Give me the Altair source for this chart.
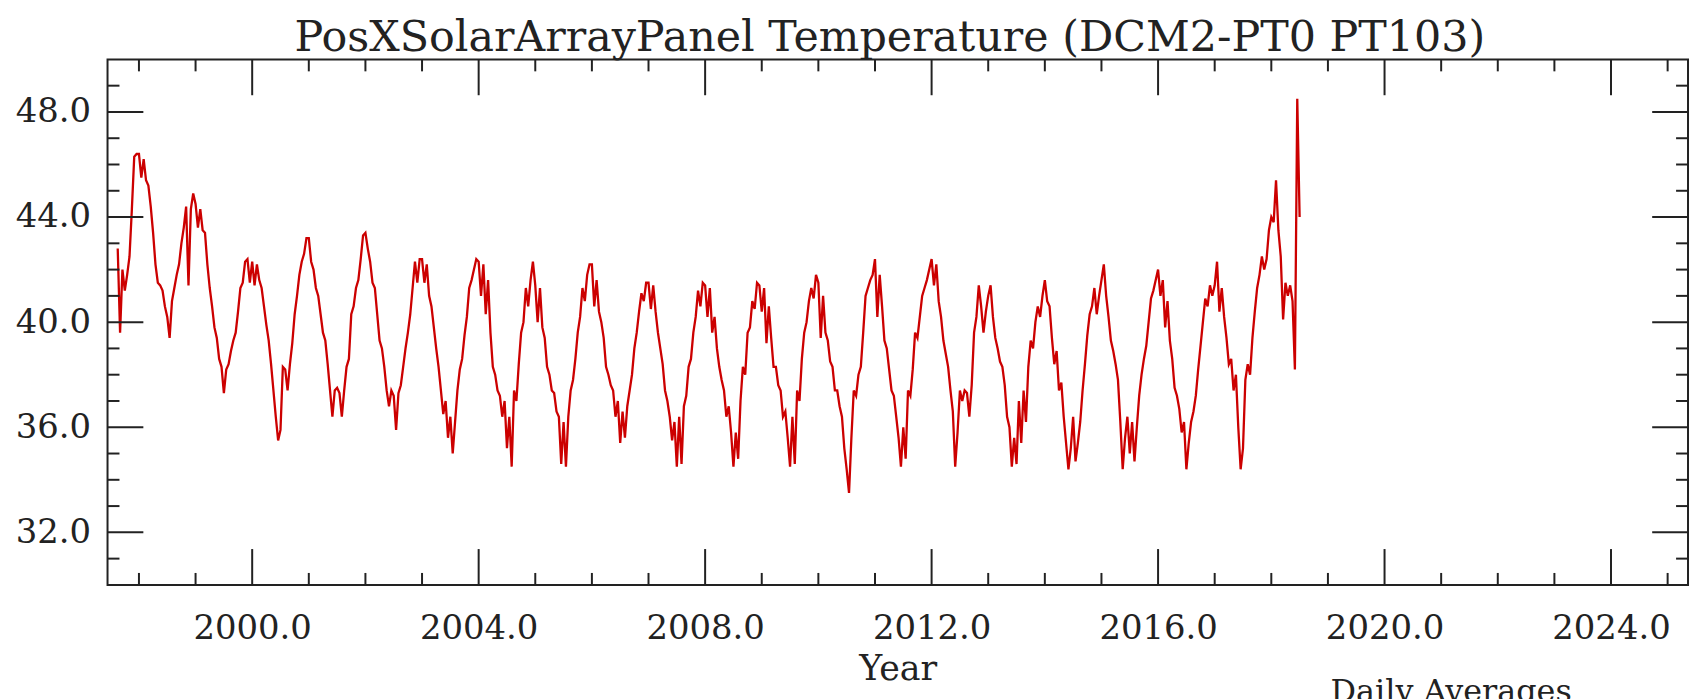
import altair as alt
import pandas as pd

TITLE = "PosXSolarArrayPanel Temperature (DCM2-PT0 PT103)"
X_TITLE = "Year"
NOTE = "Daily Averages"

# Semi-monthly readings of the daily-average temperature (deg), 24 samples per year:
# sample k of a year sits at year + k/24. 1997 starts at sample 15.
FIRST_1997 = 15
y1997 = [42.8, 39.6, 42.0, 41.2, 41.8, 42.5, 44.3, 46.3, 46.4]
y1998 = [46.4, 45.5, 46.2, 45.4, 45.2, 44.4, 43.4, 42.2, 41.5, 41.4, 41.2, 40.6,
         40.2, 39.4, 40.8, 41.3, 41.8, 42.2, 43.0, 43.6, 44.4, 41.4, 44.3, 44.9]
y1999 = [44.5, 43.6, 44.3, 43.5, 43.4, 42.2, 41.3, 40.6, 39.8, 39.4, 38.6, 38.3,
         37.3, 38.2, 38.4, 38.9, 39.3, 39.6, 40.4, 41.3, 41.5, 42.3, 42.4, 41.5]
y2000 = [42.3, 41.4, 42.2, 41.6, 41.3, 40.6, 39.9, 39.3, 38.4, 37.4, 36.4, 35.5,
         35.9, 38.3, 38.2, 37.4, 38.4, 39.2, 40.3, 41.0, 41.8, 42.3, 42.6, 43.2]
y2001 = [43.2, 42.3, 42.0, 41.3, 41.0, 40.3, 39.6, 39.3, 38.4, 37.4, 36.4, 37.4,
         37.5, 37.3, 36.4, 37.4, 38.3, 38.6, 40.3, 40.6, 41.3, 41.6, 42.4, 43.3]
y2002 = [43.4, 42.8, 42.3, 41.5, 41.3, 40.3, 39.3, 39.0, 38.3, 37.4, 36.8, 37.4,
         37.2, 35.9, 37.3, 37.6, 38.3, 39.0, 39.6, 40.3, 41.3, 42.3, 41.5, 42.4]
y2003 = [42.4, 41.5, 42.2, 41.0, 40.6, 39.8, 39.0, 38.3, 37.4, 36.5, 37.0, 35.6,
         36.4, 35.0, 36.2, 37.4, 38.2, 38.6, 39.5, 40.2, 41.3, 41.6, 42.0, 42.4]
y2004 = [42.3, 41.0, 42.2, 40.3, 41.6, 39.6, 38.3, 38.0, 37.4, 37.2, 36.4, 37.0,
         35.2, 36.4, 34.5, 37.4, 37.0, 38.4, 39.6, 40.0, 41.3, 40.6, 41.6, 42.3]
y2005 = [41.4, 40.0, 41.3, 39.8, 39.4, 38.3, 38.0, 37.4, 37.3, 36.6, 36.4, 34.6,
         36.2, 34.5, 36.4, 37.4, 37.8, 38.6, 39.6, 40.2, 41.3, 40.8, 41.8, 42.2]
y2006 = [42.2, 40.6, 41.6, 40.4, 40.0, 39.4, 38.3, 38.0, 37.6, 37.4, 36.4, 37.0,
         35.4, 36.6, 35.6, 36.8, 37.4, 38.0, 39.0, 39.6, 40.4, 41.1, 40.8, 41.5]
y2007 = [41.5, 40.5, 41.4, 40.4, 39.6, 39.0, 38.4, 37.4, 37.0, 36.4, 35.5, 36.2,
         34.5, 36.4, 34.6, 36.8, 37.2, 38.3, 38.6, 39.6, 40.2, 41.2, 40.6, 41.5]
y2008 = [41.4, 40.2, 41.3, 39.6, 40.2, 39.0, 38.3, 37.8, 37.4, 36.4, 36.8, 35.8,
         34.5, 35.8, 34.8, 37.0, 38.3, 38.0, 39.6, 39.8, 40.8, 40.5, 41.5, 41.4]
y2009 = [40.4, 41.3, 39.2, 40.6, 39.4, 38.3, 38.3, 37.6, 37.4, 36.4, 36.6, 35.6,
         34.5, 36.4, 34.6, 37.4, 37.0, 38.6, 39.6, 40.0, 40.8, 41.3, 40.9, 41.8]
y2010 = [41.5, 39.4, 41.0, 39.6, 39.3, 38.5, 38.3, 37.4, 37.4, 36.8, 36.4, 35.2,
         34.4, 33.5, 35.6, 37.4, 37.2, 38.0, 38.3, 39.6, 41.0, 41.3, 41.6, 41.8]
y2011 = [42.4, 40.2, 41.8, 40.6, 39.3, 39.0, 38.2, 37.4, 37.2, 36.4, 35.6, 34.5,
         36.0, 34.8, 37.4, 37.2, 38.2, 39.6, 39.4, 40.2, 41.0, 41.3, 41.6, 42.0]
y2012 = [42.4, 41.4, 42.2, 40.8, 40.2, 39.3, 38.8, 38.3, 37.4, 36.6, 34.5, 35.8,
         37.4, 37.0, 37.4, 37.3, 36.4, 37.6, 39.6, 40.2, 41.4, 40.6, 39.6, 40.4]
y2013 = [41.0, 41.4, 40.2, 39.4, 39.0, 38.5, 38.3, 37.6, 36.4, 36.0, 34.5, 35.6,
         34.6, 37.0, 35.4, 37.4, 36.2, 38.3, 39.3, 39.0, 40.0, 40.6, 40.2, 41.0]
y2014 = [41.6, 40.8, 40.6, 39.4, 38.4, 38.9, 37.4, 37.7, 36.4, 35.4, 34.4, 35.2,
         36.4, 34.7, 35.4, 36.2, 37.4, 38.4, 39.5, 40.3, 40.6, 41.3, 40.3, 41.0]
y2015 = [41.6, 42.2, 41.0, 40.2, 39.3, 38.9, 38.4, 37.8, 36.2, 34.4, 35.6, 36.4,
         35.0, 36.2, 34.7, 36.0, 37.2, 38.0, 38.6, 39.1, 40.0, 40.9, 41.2, 41.6]
y2016 = [42.0, 41.0, 41.6, 39.8, 40.8, 39.3, 38.6, 37.5, 37.2, 36.7, 35.8, 36.2,
         34.4, 35.4, 36.2, 36.6, 37.2, 38.2, 39.1, 40.0, 40.9, 40.6, 41.4, 41.0]
y2017 = [41.4, 42.3, 40.4, 41.3, 40.2, 39.4, 38.4, 38.6, 37.4, 38.0, 36.0, 34.4,
         35.2, 37.8, 38.4, 38.0, 39.4, 40.4, 41.3, 41.8, 42.5, 42.0, 42.4, 43.5]
y2018 = [44.0, 43.8, 45.4, 43.5, 42.5, 40.1, 41.5, 41.0, 41.4, 40.8, 38.2, 48.5, 44.0]

segments = [
    (1997, FIRST_1997, y1997), (1998, 0, y1998), (1999, 0, y1999), (2000, 0, y2000),
    (2001, 0, y2001), (2002, 0, y2002), (2003, 0, y2003), (2004, 0, y2004),
    (2005, 0, y2005), (2006, 0, y2006), (2007, 0, y2007), (2008, 0, y2008),
    (2009, 0, y2009), (2010, 0, y2010), (2011, 0, y2011), (2012, 0, y2012),
    (2013, 0, y2013), (2014, 0, y2014), (2015, 0, y2015), (2016, 0, y2016),
    (2017, 0, y2017), (2018, 0, y2018),
]

x_major = [2000, 2004, 2008, 2012, 2016, 2020, 2024]
x_minor = [1998, 1999, 2001, 2002, 2003, 2005, 2006, 2007, 2009, 2010, 2011,
           2013, 2014, 2015, 2017, 2018, 2019, 2021, 2022, 2023, 2025]
y_major = [32, 36, 40, 44, 48]
y_minor = [31, 33, 34, 35, 37, 38, 39, 41, 42, 43, 45, 46, 47, 49]
x_domain = [1997.445, 2025.36]
y_domain = [30, 50]

rows = []
for yr, first, vals in segments:
    for k, v in enumerate(vals):
        rows.append({"t": yr + (first + k) / 24.0, "temp": v})
series = pd.DataFrame(rows)

W, H = 1588, 528
MAJOR, MINOR = 36, 12
INK = "#222222"
FONT = "DejaVu Serif"

xs = alt.Scale(domain=x_domain, nice=False, zero=False)
ys = alt.Scale(domain=y_domain, nice=False, zero=False)

line = alt.Chart(series).mark_line(color="#cc0000", strokeWidth=2.3).encode(
    x=alt.X("t:Q", scale=xs, axis=alt.Axis(
        values=x_major, format=".1f", ticks=False, tickSize=0, domain=False, grid=False,
        labelFont=FONT, labelFontSize=34, labelColor=INK, labelPadding=27,
        title=X_TITLE, titleFont=FONT, titleFontSize=35, titleFontWeight="normal",
        titleColor=INK, titleBaseline="alphabetic", titleY=95)),
    y=alt.Y("temp:Q", scale=ys, axis=alt.Axis(
        values=y_major, format=".1f", ticks=False, tickSize=0, domain=False, grid=False,
        labelFont=FONT, labelFontSize=34, labelColor=INK, labelPadding=17, title=None)),
)

def xticks(vals, length):
    df = pd.DataFrame({"t": vals})
    bottom = alt.Chart(df).mark_rule(color=INK, strokeWidth=2).encode(
        x=alt.X("t:Q", scale=xs), y=alt.value(H), y2=alt.value(H - length))
    top = alt.Chart(df).mark_rule(color=INK, strokeWidth=2).encode(
        x=alt.X("t:Q", scale=xs), y=alt.value(0), y2=alt.value(length))
    return [bottom, top]

def yticks(vals, length):
    df = pd.DataFrame({"v": vals})
    left = alt.Chart(df).mark_rule(color=INK, strokeWidth=2).encode(
        y=alt.Y("v:Q", scale=ys), x=alt.value(0), x2=alt.value(length))
    right = alt.Chart(df).mark_rule(color=INK, strokeWidth=2).encode(
        y=alt.Y("v:Q", scale=ys), x=alt.value(W), x2=alt.value(W - length))
    return [left, right]

note = alt.Chart(pd.DataFrame({"label": [NOTE]})).mark_text(
    font=FONT, fontSize=32, color=INK, align="center", baseline="alphabetic"
).encode(x=alt.value(1350), y=alt.value(646), text="label:N")

layers = [line] + xticks(x_major, MAJOR) + xticks(x_minor, MINOR) \
    + yticks(y_major, MAJOR) + yticks(y_minor, MINOR) + [note]

chart = alt.layer(*layers).properties(
    width=W, height=H,
    autosize=alt.AutoSizeParams(type="none"),
    padding={"left": 100, "top": 50, "right": 3, "bottom": 113},
    title=alt.TitleParams(TITLE, font=FONT, fontSize=43, fontWeight="normal",
                          color=INK, anchor="middle", baseline="alphabetic",
                          frame="group", offset=11, dy=47, dx=-8),
).configure_view(stroke=INK, strokeWidth=2)

chart.save("out.html", embed_options={"renderer": "svg", "actions": False})
